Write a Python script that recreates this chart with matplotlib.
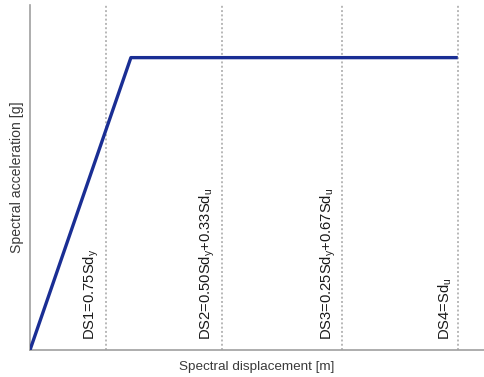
import matplotlib.pyplot as plt
import numpy as np

plt.rcParams['font.family'] = ['Liberation Sans', 'DejaVu Sans']
plt.rcParams['mathtext.fontset'] = 'custom'
plt.rcParams['mathtext.rm'] = 'Liberation Sans'

# Capacity curve (bilinear), yield and ultimate displacement
Sdy = 1.0
Sdu = 4.24
Sa_y = 1.0
curve_x = [0.0, Sdy, Sdu]
curve_y = [0.0, Sa_y, Sa_y]

# Damage state thresholds
ds_values = [0.75*Sdy, 0.50*Sdy + 0.33*Sdu, 0.25*Sdy + 0.67*Sdu, Sdu]
ds_labels = [r'DS1=0.75Sd$_\mathregular{y}$',
             r'DS2=0.50Sd$_\mathregular{y}$+0.33Sd$_\mathregular{u}$',
             r'DS3=0.25Sd$_\mathregular{y}$+0.67Sd$_\mathregular{u}$',
             r'DS4=Sd$_\mathregular{u}$']

fig = plt.figure(figsize=(4.84, 3.77), dpi=100)
ax = fig.add_axes([30/484, 27/377, 454/484, 345/377])

for x in ds_values:
    ax.axvline(x, color='#b8b8b8', lw=1.4, ls=(0, (1, 1.2)), zorder=1)

ax.plot(curve_x, curve_y, color='#1a2e94', lw=2.4, solid_capstyle='butt', zorder=3)

for x, lab in zip(ds_values, ds_labels):
    ax.annotate(lab, xy=(x, 0), xytext=(-3, 7), textcoords='offset points',
                rotation=90, ha='right', va='bottom', fontsize=10.6, color='#1a1a1a')

ax.set_xlim(0, 4.5)
ax.set_ylim(0, 1.18)
ax.set_xticks([])
ax.set_yticks([])
for s in ['top', 'right']:
    ax.spines[s].set_visible(False)
for s in ['left', 'bottom']:
    ax.spines[s].set_color('#a0a0a0')
    ax.spines[s].set_linewidth(1.2)

ax.set_xlabel('Spectral displacement [m]', fontsize=9.7, color='#3a3a3a', labelpad=8)
ax.set_ylabel('Spectral acceleration [g]', fontsize=10.1, color='#3a3a3a', labelpad=4)

fig.savefig('out.png', dpi=100)
